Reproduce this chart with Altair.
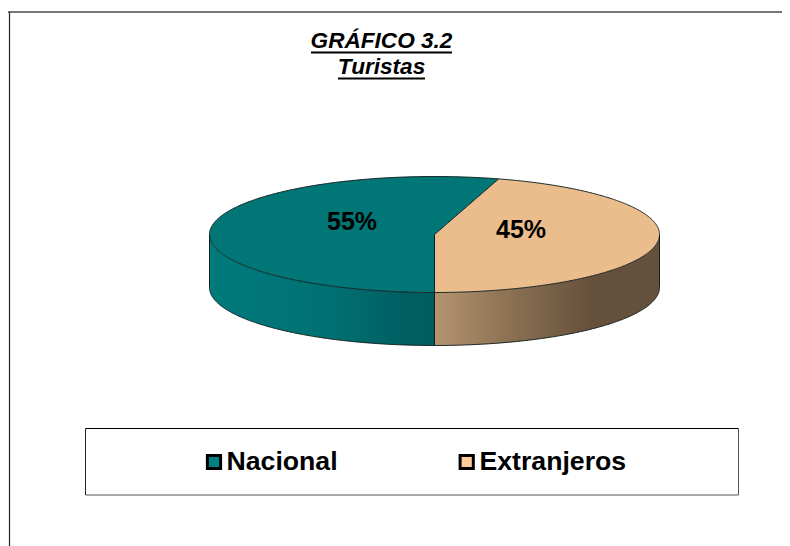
import math
import altair as alt
import pandas as pd

categories = ["Nacional", "Extranjeros"]
shares = [54.6, 45.4]
labels = ["55%", "45%"]
top_colors = ["#007677", "#ebbc8c"]
legend_colors = ["#008080", "#ffcc99"]
title_lines = ["GRÁFICO 3.2", "Turistas"]

# pie geometry in page pixels (the plot starts at the 8px page margin)
W, H = 774, 538
CX, CY, RX, RY, DEPTH = 426.5, 226.5, 225.0, 58.0, 53.0

x_scale = alt.Scale(domain=[-CX / RX, (W - CX) / RX], range=[0, W], nice=False, zero=False)
y_scale = alt.Scale(domain=[(CY - H) / RY, CY / RY], range=[H, 0], nice=False, zero=False)

split = 2 * math.pi * shares[0] / sum(shares)      # Nacional's sweep
start = math.pi                                    # both slices meet straight down
bx, by = math.sin(start + split), math.cos(start + split)   # second boundary, on the rim
d = DEPTH / RY
N = 240


def ell_y(u):
    return math.sqrt(max(0.0, 1 - u * u))


def us(a, b, n=N):
    # dense near the rim ends so the ellipse stays round
    return [a + (b - a) * (1 - math.cos(math.pi * i / n)) / 2 for i in range(n + 1)]


nat = []
for u in us(-1, bx):
    low = -ell_y(u) if u <= 0 else by * (u / bx)
    nat.append({"u": u, "v": ell_y(u), "v2": low})
ext = []
for u in us(0, bx, 40):
    ext.append({"u": u, "v": by * (u / bx), "v2": -ell_y(u)})
for u in us(bx, 1):
    ext.append({"u": u, "v": ell_y(u), "v2": -ell_y(u)})
side_l = [{"u": u, "v": -ell_y(u), "v2": -ell_y(u) - d} for u in us(-1, 0)]
side_r = [{"u": u, "v": -ell_y(u), "v2": -ell_y(u) - d} for u in us(0, 1)]

lines = []


def add(seg, pts):
    for i, (u, v) in enumerate(pts):
        lines.append({"seg": seg, "i": i, "u": u, "v": v})


full = us(-1, 1, 400)
add("rim_top", [(u, ell_y(u)) for u in full])
add("rim_low", [(u, -ell_y(u)) for u in full])
add("base", [(u, -ell_y(u) - d) for u in full])
add("left", [(-1, 0), (-1, -d)])
add("right", [(1, 0), (1, -d)])
add("mid", [(0, -1), (0, -1 - d)])
add("r1", [(0, 0), (0, -1)])
add("r2", [(0, 0), (bx, by)])

X = alt.X("u:Q", scale=x_scale, axis=None)
Y = alt.Y("v:Q", scale=y_scale, axis=None)
Y2 = alt.Y2("v2:Q")


def area(rows, fill):
    return alt.Chart(pd.DataFrame(rows)).mark_area(color=fill, interpolate="linear").encode(x=X, y=Y, y2=Y2)


def grad(stops):
    return alt.Gradient(
        gradient="linear", x1=0, x2=1, y1=0, y2=0,
        stops=[alt.GradientStop(offset=o, color=c) for o, c in stops],
    )


teal_side = grad([(0, "#007a7c"), (0.55, "#007072"), (0.85, "#005f62"), (1, "#005c5f")])
brown_side = grad([(0, "#b4946f"), (0.35, "#8a6f52"), (0.7, "#65503c"), (1, "#65503c")])

outline = alt.Chart(pd.DataFrame(lines)).mark_line(color="#12201f", strokeWidth=1).encode(
    x=X, y=Y, detail="seg:N", order="i:Q"
)


def text(rows, size, style="normal", align="center"):
    return alt.Chart(pd.DataFrame(rows)).mark_text(
        font="Liberation Sans", fontSize=size, fontWeight="bold", fontStyle=style,
        align=align, baseline="alphabetic", color="black",
    ).encode(x=alt.X("px:Q", scale=None), y=alt.Y("py:Q", scale=None), text="t:N")


def rule(x1, x2, y1, y2, color="black", w=1.0):
    return alt.Chart(pd.DataFrame({"a": [0]})).mark_rule(color=color, strokeWidth=w).encode(
        x=alt.value(x1), x2=alt.value(x2), y=alt.value(y1), y2=alt.value(y2)
    )


titles = text(
    [{"px": 373.5, "py": 40, "t": title_lines[0]}, {"px": 373.5, "py": 66, "t": title_lines[1]}],
    22.6, style="italic",
)
underlines = rule(303, 444, 44.5, 44.5, w=2) + rule(330, 417, 70.5, 70.5, w=2)

pct = text(
    [{"px": 344, "py": 222, "t": labels[0]}, {"px": 513, "py": 229.5, "t": labels[1]}], 25
)

frame = (
    rule(0, W, 4, 4, color="#777777", w=2)
    + rule(1.5, 1.5, 4, H, color="#222222", w=1.2)
)
box = (
    rule(77.5, 730.5, 420.5, 420.5, w=1)
    + rule(77.5, 730.5, 487, 487, color="#555555", w=1.2)
    + rule(77.5, 77.5, 420.5, 487, color="#222222", w=1)
    + rule(730.5, 730.5, 420.5, 487, color="#555555", w=1)
)

leg_df = pd.DataFrame({"c": categories, "px": [206, 458.7], "py": [454, 454]})
swatches = alt.Chart(leg_df).mark_square(size=175, opacity=1, stroke="black", strokeWidth=3).encode(
    x=alt.X("px:Q", scale=None),
    y=alt.Y("py:Q", scale=None),
    fill=alt.Fill("c:N", scale=alt.Scale(domain=categories, range=legend_colors), legend=None),
)
leg_text = text(
    [{"px": 218.5, "py": 462, "t": categories[0]}, {"px": 471.5, "py": 462, "t": categories[1]}],
    26.67, align="left",
)

chart = (
    alt.layer(
        frame,
        area(side_l, teal_side),
        area(side_r, brown_side),
        area(nat, top_colors[0]),
        area(ext, top_colors[1]),
        outline,
        titles,
        underlines,
        pct,
        box,
        swatches,
        leg_text,
    )
    .resolve_scale(x="shared", y="shared")
    .properties(width=W, height=H, padding=0, autosize=alt.AutoSizeParams(type="none"), background="white")
    .configure_view(stroke=None)
)
chart.save("out.html", embed_options={"renderer": "svg", "actions": False})
